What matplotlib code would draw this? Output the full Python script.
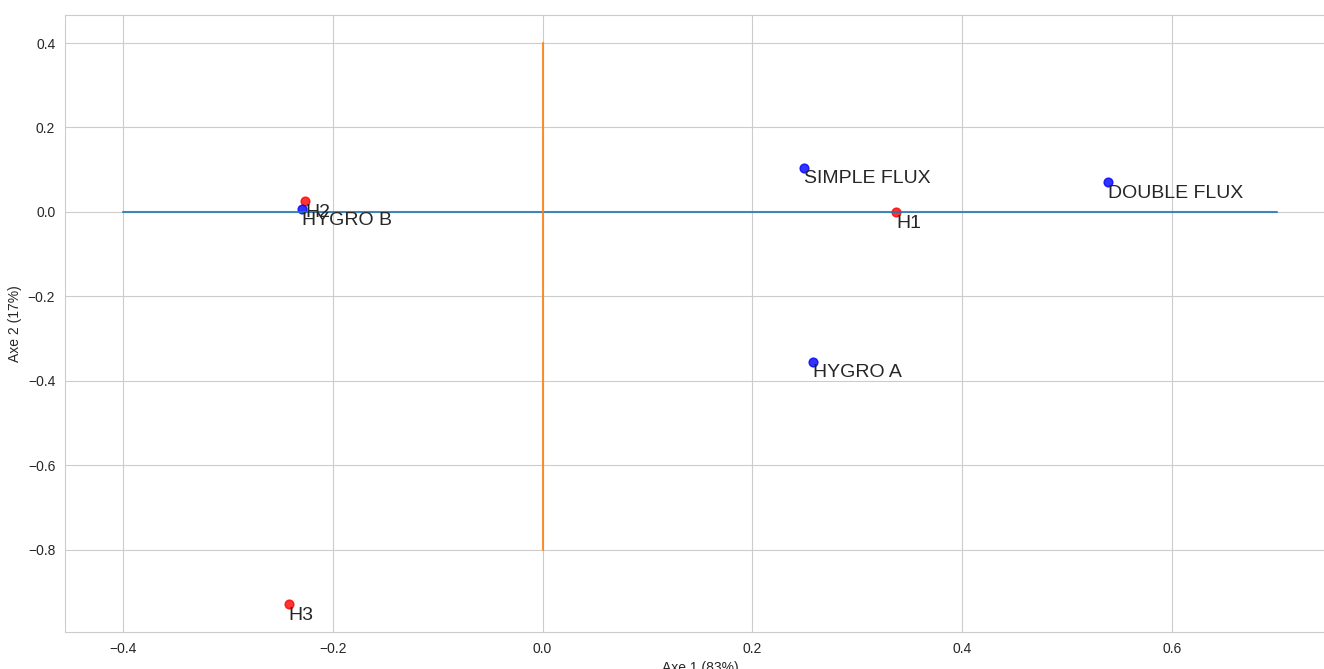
import matplotlib.pyplot as plt
import seaborn as sns

sns.set_style('whitegrid')
plt.rcParams['font.family'] = ['Liberation Sans', 'DejaVu Sans']

# coordonnées des individus (lignes) et variables (colonnes) sur les axes 1 et 2
lignes = ['H1', 'H2', 'H3']
lignes_x = [0.337, -0.226, -0.242]
lignes_y = [0.000, 0.026, -0.929]

colonnes = ['HYGRO B', 'SIMPLE FLUX', 'DOUBLE FLUX', 'HYGRO A']
colonnes_x = [-0.229, 0.249, 0.539, 0.258]
colonnes_y = [0.007, 0.105, 0.071, -0.355]

# axes de référence
axe_h_x = [-0.4, 0.7]
axe_h_y = [0, 0]
axe_v_x = [0, 0]
axe_v_y = [-0.8, 0.4]

fig = plt.figure(figsize=(13.24, 6.69), dpi=100)
ax = fig.add_axes([0.0491, 0.0553, 0.9592, 0.9223])

ax.plot(axe_h_x, axe_h_y, alpha=0.85)
ax.plot(axe_v_x, axe_v_y, alpha=0.85)

ax.scatter(lignes_x, lignes_y, c='red', alpha=0.8, s=40, zorder=1)
ax.scatter(colonnes_x, colonnes_y, c='blue', alpha=0.8, s=40, zorder=1)

for nom, x, y in zip(lignes + colonnes, lignes_x + colonnes_x, lignes_y + colonnes_y):
    ax.annotate(nom, (x, y), xytext=(0, -2), textcoords='offset points',
                fontsize=14, va='top', ha='left', color='.15')

ax.set_xlabel('Axe 1 (83%)')
ax.set_ylabel('Axe 2 (17%)')

fig.savefig('out.png', dpi=100)
